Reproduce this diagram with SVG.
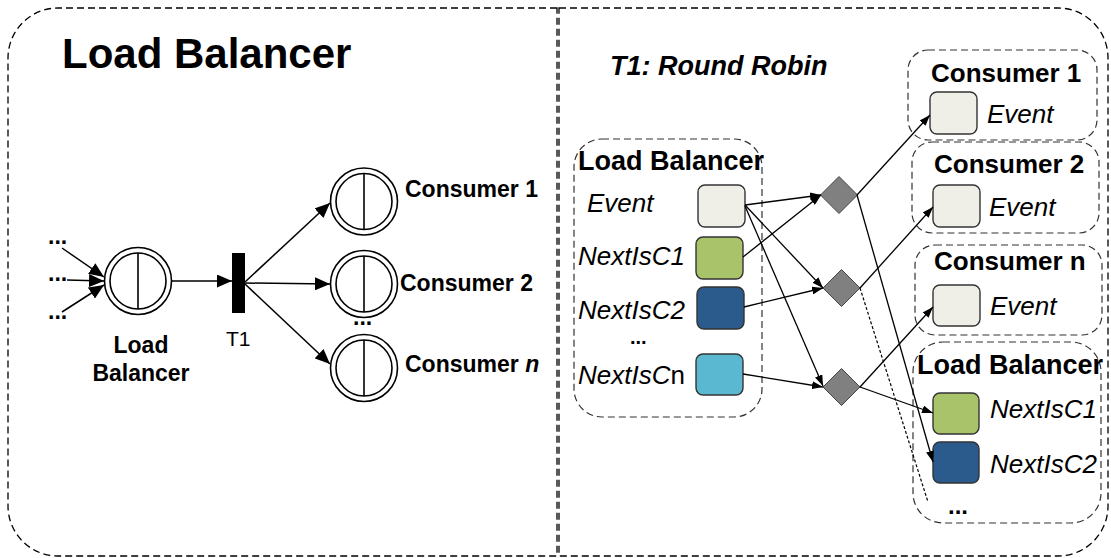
<svg xmlns="http://www.w3.org/2000/svg" width="1111" height="558" viewBox="0 0 1111 558">
  <style>
    .frame { fill: none; stroke: #000; stroke-width: 1.3; stroke-dasharray: 7 4; }
    .box { fill: none; stroke: #333; stroke-width: 1.2; stroke-dasharray: 7 4; }
    .place { fill: #fff; stroke: #000; stroke-width: 1.6; }
    .bar { stroke: #000; stroke-width: 1.6; }
    .arc { fill: none; stroke: #000; stroke-width: 1.5; }
    .arc2 { fill: none; stroke: #000; stroke-width: 1.3; }
    .dash { fill: none; stroke: #000; stroke-width: 1.2; stroke-dasharray: 3 2; }
    .tok { stroke: #333; stroke-width: 1.4; }
    .ev { fill: #EFEFE8; }
    .c1 { fill: #A8C36A; }
    .c2 { fill: #2A5B8C; }
    .cn { fill: #5AB8D1; }
    .dia { fill: #808080; stroke: #444; stroke-width: 1; }
    text { font-family: "Liberation Sans", Arial, sans-serif; fill: #000; }
    .b { font-weight: bold; }
    .i { font-style: italic; }
  </style>
  <defs>
    <marker id="ah" markerUnits="userSpaceOnUse" markerWidth="15" markerHeight="13" refX="15" refY="6.5" orient="auto">
      <path d="M0,0 L15,6.5 L0,13 Z" fill="#000"/>
    </marker>
    <marker id="ah2" markerUnits="userSpaceOnUse" markerWidth="11" markerHeight="8" refX="11" refY="4" orient="auto">
      <path d="M0,0 L11,4 L0,8 Z" fill="#000"/>
    </marker>
  </defs>

  <!-- outer frame: two panels sharing a divider -->
  <g id="frame">
    <path class="frame" d="M557,8 H58 A50,50 0 0 0 8,58 V506 A50,50 0 0 0 58,556 H557 Z"/>
    <path class="frame" d="M559,8 H1058 A50,50 0 0 1 1108,58 V506 A50,50 0 0 1 1058,556 H559 Z"/>
  </g>

  <!-- left panel: Petri net view -->
  <text class="b" x="62" y="68" font-size="42">Load Balancer</text>

  <g id="inputs">
    <text class="b" x="48" y="244" font-size="23">...</text>
    <text class="b" x="48" y="281" font-size="23">...</text>
    <text class="b" x="48" y="319" font-size="23">...</text>
  </g>

  <g id="lb-place">
    <circle class="place" cx="138" cy="281" r="33.5"/>
    <circle class="place" cx="138" cy="281" r="28"/>
    <line class="bar" x1="138" y1="253" x2="138" y2="309"/>
    <text class="b" x="141" y="353" font-size="23" text-anchor="middle">Load</text>
    <text class="b" x="141" y="381" font-size="23" text-anchor="middle">Balancer</text>
  </g>

  <g id="t1">
    <rect x="232" y="253" width="13" height="60" fill="#000"/>
    <text x="226" y="346" font-size="21">T1</text>
  </g>

  <g id="consumer1-place">
    <circle class="place" cx="364" cy="201.5" r="33.5"/>
    <circle class="place" cx="364" cy="201.5" r="28"/>
    <line class="bar" x1="364" y1="173.5" x2="364" y2="229.5"/>
    <text class="b" x="405" y="197" font-size="23">Consumer 1</text>
  </g>
  <g id="consumer2-place">
    <circle class="place" cx="364" cy="284" r="33.5"/>
    <circle class="place" cx="364" cy="284" r="28"/>
    <line class="bar" x1="364" y1="256" x2="364" y2="312"/>
    <text class="b" x="400" y="291" font-size="23">Consumer 2</text>
    <text class="b" x="353" y="325" font-size="23">...</text>
  </g>
  <g id="consumern-place">
    <circle class="place" cx="364" cy="368" r="33.5"/>
    <circle class="place" cx="364" cy="368" r="28"/>
    <line class="bar" x1="364" y1="340" x2="364" y2="396"/>
    <text class="b" x="405" y="372" font-size="23">Consumer <tspan class="i">n</tspan></text>
  </g>

  <g id="left-arcs">
    <line class="arc" x1="62" y1="248" x2="104" y2="277" marker-end="url(#ah)"/>
    <line class="arc" x1="67" y1="280" x2="104" y2="281" marker-end="url(#ah)"/>
    <line class="arc" x1="62" y1="312" x2="104" y2="285" marker-end="url(#ah)"/>
    <line class="arc" x1="172" y1="281" x2="232" y2="281" marker-end="url(#ah)"/>
    <line class="arc" x1="245" y1="282" x2="330" y2="203" marker-end="url(#ah)"/>
    <line class="arc" x1="245" y1="283" x2="330" y2="284" marker-end="url(#ah)"/>
    <line class="arc" x1="245" y1="284" x2="330" y2="364" marker-end="url(#ah)"/>
  </g>

  <!-- right panel: round robin detail -->
  <text class="b i" x="610" y="75" font-size="27">T1: Round Robin</text>

  <g id="lb-source">
    <rect class="box" x="574" y="139" width="188" height="278" rx="28"/>
    <text class="b" x="578" y="170" font-size="27">Load Balancer</text>
    <text class="i" x="587" y="212" font-size="26">Event</text>
    <rect class="tok ev" x="698" y="185" width="47" height="42" rx="7"/>
    <text class="i" x="578" y="265" font-size="26">NextIsC1</text>
    <rect class="tok c1" x="696" y="237" width="47" height="42" rx="7"/>
    <text class="i" x="578" y="319" font-size="26">NextIsC2</text>
    <rect class="tok c2" x="697" y="287" width="47" height="42" rx="7"/>
    <text class="b" x="630" y="344" font-size="20">...</text>
    <text class="i" x="578" y="384" font-size="26">NextIsC<tspan font-style="normal">n</tspan></text>
    <rect class="tok cn" x="696" y="354" width="47" height="41" rx="7"/>
  </g>

  <g id="join1"><path class="dia" d="M839,176.5 L857.5,195 L839,213.5 L820.5,195 Z"/></g>
  <g id="join2"><path class="dia" d="M841.5,269.5 L860,288 L841.5,306.5 L823,288 Z"/></g>
  <g id="join3"><path class="dia" d="M841.5,368.5 L860,387 L841.5,405.5 L823,387 Z"/></g>

  <g id="consumer1">
    <rect class="box" x="908" y="50" width="189" height="90" rx="20"/>
    <text class="b" x="931" y="82" font-size="26">Consumer 1</text>
    <rect class="tok ev" x="930" y="92" width="47" height="42" rx="7"/>
    <text class="i" x="987" y="123" font-size="26">Event</text>
  </g>
  <g id="consumer2">
    <rect class="box" x="912" y="142" width="187" height="91" rx="20"/>
    <text class="b" x="934" y="173" font-size="26">Consumer 2</text>
    <rect class="tok ev" x="933" y="185" width="47" height="42" rx="7"/>
    <text class="i" x="989" y="216" font-size="26">Event</text>
  </g>
  <g id="consumern">
    <rect class="box" x="915" y="245" width="187" height="90" rx="20"/>
    <text class="b" x="934" y="270" font-size="26">Consumer n</text>
    <rect class="tok ev" x="933" y="285" width="47" height="41" rx="7"/>
    <text class="i" x="990" y="315" font-size="26">Event</text>
  </g>
  <g id="lb-target">
    <rect class="box" x="913" y="342" width="188" height="181" rx="30"/>
    <text class="b" x="917" y="374" font-size="27">Load Balancer</text>
    <rect class="tok c1" x="933" y="393" width="46" height="41" rx="7"/>
    <text class="i" x="990" y="418" font-size="26">NextIsC1</text>
    <rect class="tok c2" x="933" y="442" width="46" height="41" rx="7"/>
    <text class="i" x="990" y="473" font-size="26">NextIsC2</text>
    <text class="b" x="948" y="514" font-size="24">...</text>
  </g>

  <g id="right-arcs">
    <line class="arc2" x1="745" y1="205" x2="821" y2="195" marker-end="url(#ah2)"/>
    <line class="arc2" x1="743" y1="257" x2="821" y2="195" marker-end="url(#ah2)"/>
    <line class="arc2" x1="745" y1="205" x2="823" y2="288" marker-end="url(#ah2)"/>
    <line class="arc2" x1="744" y1="307" x2="823" y2="288" marker-end="url(#ah2)"/>
    <line class="arc2" x1="745" y1="206" x2="823" y2="386" marker-end="url(#ah2)"/>
    <line class="arc2" x1="743" y1="374" x2="823" y2="387" marker-end="url(#ah2)"/>
    <line class="arc2" x1="857" y1="195" x2="930" y2="115" marker-end="url(#ah2)"/>
    <line class="arc2" x1="857" y1="195" x2="933" y2="462" marker-end="url(#ah2)"/>
    <line class="arc2" x1="860" y1="288" x2="933" y2="207" marker-end="url(#ah2)"/>
    <line class="dash" x1="860" y1="288" x2="928" y2="502"/>
    <line class="arc2" x1="860" y1="387" x2="933" y2="307" marker-end="url(#ah2)"/>
    <line class="arc2" x1="860" y1="387" x2="933" y2="413" marker-end="url(#ah2)"/>
  </g>
</svg>
